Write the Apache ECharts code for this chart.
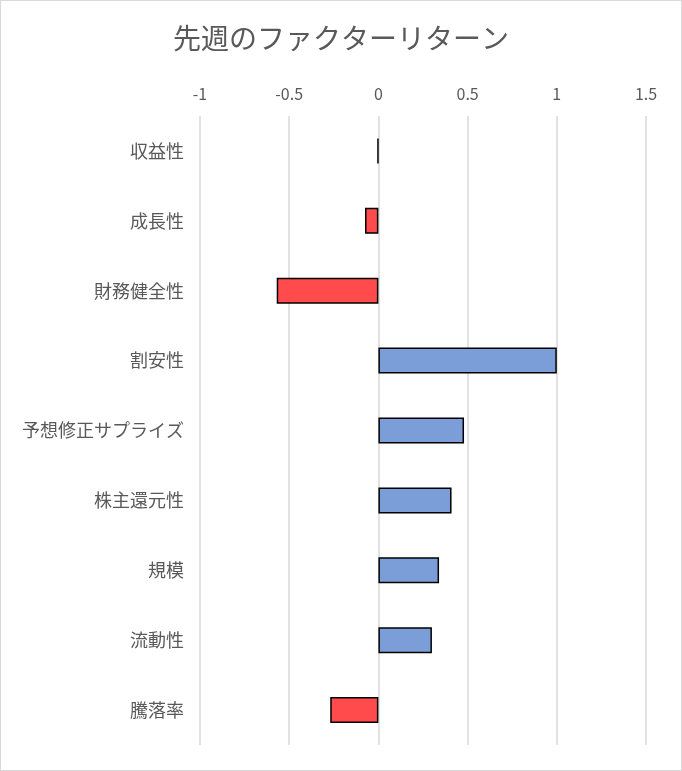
<!DOCTYPE html>
<html><head><meta charset="utf-8">
<script src="https://cdn.jsdelivr.net/npm/echarts@6/dist/echarts.min.js"></script>
<style>html,body{margin:0;padding:0;background:#fff}#c{width:682px;height:771px;box-sizing:border-box;border:1px solid #d9d9d9}</style>
</head><body><div id="c"></div>
<script>
const categories = ['収益性','成長性','財務健全性','割安性','予想修正サプライズ','株主還元性','規模','流動性','騰落率'];
const values = [-0.005,-0.075,-0.57,1.0,0.48,0.41,0.34,0.30,-0.27];
const chart = echarts.init(document.getElementById('c'));
chart.setOption({
  animation:false,
  title:{text:'先週のファクターリターン',left:'center',top:18,textStyle:{fontFamily:'Noto Sans CJK JP',fontSize:28,fontWeight:'normal',color:'#595959'}},
  grid:{left:199,right:35,top:115,bottom:25},
  xAxis:{type:'value',position:'top',min:-1,max:1.5,interval:0.5,
    axisLine:{show:false},axisTick:{show:false},
    axisLabel:{color:'#595959',fontSize:16,fontFamily:'Noto Sans CJK JP',margin:14},
    splitLine:{lineStyle:{color:'#d9d9d9',width:1.5}}},
  yAxis:{type:'category',inverse:true,data:categories,
    axisLine:{show:false},axisTick:{show:false},
    axisLabel:{color:'#595959',fontSize:18,fontFamily:'Noto Sans CJK JP',margin:16}},
  series:[{type:'bar',barWidth:26,
    data:values.map(v=>({value:v,itemStyle:{color:v<0?'#FF4B4B':'#7B9ED9'}})),
    itemStyle:{borderColor:'#000',borderWidth:1.5}}]
});
</script></body></html>
